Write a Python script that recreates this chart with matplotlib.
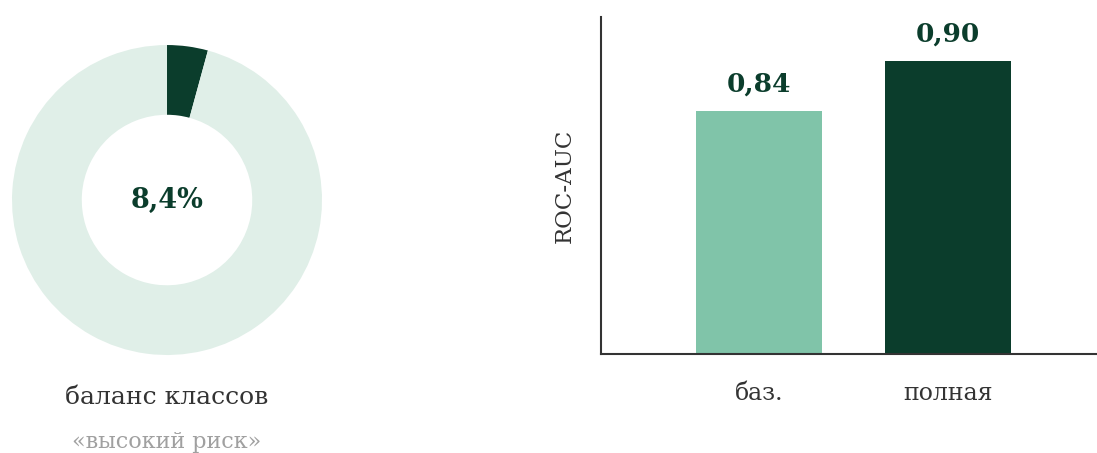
import matplotlib.pyplot as plt

# donut: class balance (wedge sizes as drawn in the picture)
donut_parts = [4.25, 95.75]
donut_label = "8,4%"
donut_title = "баланс классов"
donut_sub = "«высокий риск»"

# bars: ROC-AUC
models = ["баз.", "полная"]
auc = [0.84, 0.90]
auc_labels = ["0,84", "0,90"]

dark = "#0b3d2c"
mint = "#80c4a9"
pale = "#e0efe8"
ink = "#333333"

plt.rcParams["font.family"] = ["DejaVu Serif"]

fig = plt.figure(figsize=(10.97, 4.53), dpi=100)

# donut
ax1 = fig.add_axes([0.01094, 0.2163, 0.2826, 0.6843])
ax1.pie(donut_parts, colors=[dark, pale], startangle=90, counterclock=False,
        radius=1, wedgeprops=dict(width=0.45, linewidth=0))
ax1.set_xlim(-1, 1)
ax1.set_ylim(-1, 1)
ax1.set_aspect("equal")
ax1.text(0, 0, donut_label, ha="center", va="center", fontsize=19.5,
         fontweight="bold", color=dark)
fig.text(0.152, 1 - 398 / 453, donut_title, ha="center", va="center",
         fontsize=18, color=ink)
fig.text(0.152, 1 - 442 / 453, donut_sub, ha="center", va="center",
         fontsize=16, color="#a0a0a0")

# bars
ax2 = fig.add_axes([0.5479, 0.2185, 0.4521, 0.744])
x = range(len(models))
ax2.bar(x, auc, width=0.667, color=[mint, dark])
for xi, v, lab in zip(x, auc, auc_labels):
    ax2.text(xi, v + 0.033, lab, ha="center", va="center", fontsize=19,
             fontweight="bold", color=dark)
ax2.set_xlim(-0.836, 1.788)
ax2.set_ylim(0.55, 0.953)
ax2.set_xticks(list(x))
ax2.set_xticklabels(models, fontsize=17, color=ink)
ax2.set_yticks([])
ax2.tick_params(axis="x", length=0, pad=20)
ax2.set_ylabel("ROC-AUC", fontsize=16.5, color=ink, labelpad=18)
for s in ["top", "right"]:
    ax2.spines[s].set_visible(False)
for s in ["left", "bottom"]:
    ax2.spines[s].set_color(ink)
    ax2.spines[s].set_linewidth(1.5)

fig.savefig("out.png", dpi=100, facecolor="white")
